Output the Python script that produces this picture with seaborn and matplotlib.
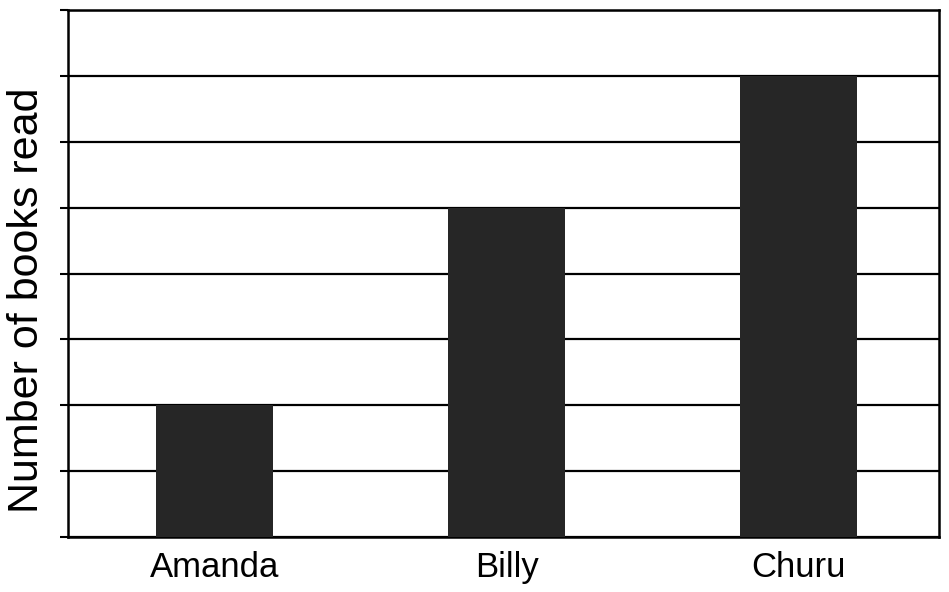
import matplotlib
matplotlib.use('Agg')
import matplotlib.pyplot as plt
import seaborn as sns
import pandas as pd

# Chart data
names = ['Amanda', 'Billy', 'Churu']
books_read = [2, 5, 7]
y_ticks = [0, 1, 2, 3, 4, 5, 6, 7, 8]

df = pd.DataFrame({'name': names, 'books': books_read})

sns.set_style('white')
plt.rcParams['font.family'] = ['Liberation Sans', 'DejaVu Sans']

fig = plt.figure(figsize=(9.49, 5.92), dpi=100)
ax = fig.add_axes([0.0717, 0.0929, 0.918, 0.890])

sns.barplot(data=df, x='name', y='books', color='#262626', width=0.4,
            saturation=1, edgecolor='#262626', linewidth=0, ax=ax, zorder=3)

ax.set_ylim(0, 8)
ax.set_xlim(-0.5, 2.48)
ax.set_yticks(y_ticks)
ax.set_yticklabels([])
ax.yaxis.grid(True, color='black', linewidth=1.6, zorder=0)
ax.set_axisbelow(True)
ax.tick_params(axis='y', direction='out', length=6, width=1.5, color='black', left=True)
ax.tick_params(axis='x', length=0, labelsize=25, pad=10, labelcolor='black')

for side in ['left', 'bottom', 'top', 'right']:
    ax.spines[side].set_visible(True)
    ax.spines[side].set_color('black')
    ax.spines[side].set_linewidth(1.8)

ax.set_xlabel('')
ax.set_ylabel('Number of books read', fontsize=31, color='black', va='center')
ax.yaxis.set_label_coords(-0.047, 0.45)

fig.savefig('out.png', dpi=100)
